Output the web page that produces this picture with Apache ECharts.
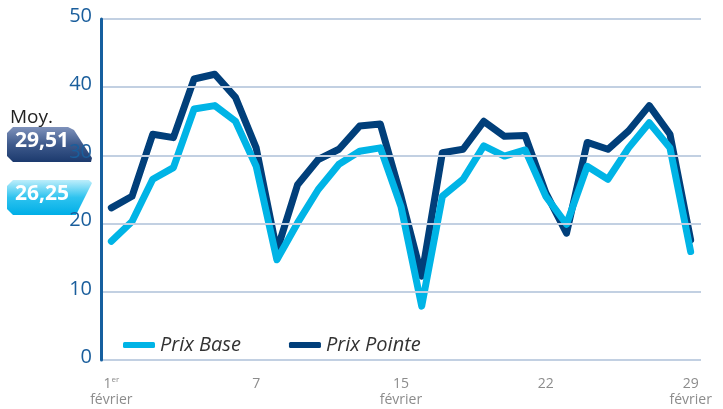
<!DOCTYPE html>
<html>
<head>
<meta charset="utf-8">
<script src="https://cdn.jsdelivr.net/npm/echarts@6/dist/echarts.min.js"></script>
<style>
  html, body { margin: 0; padding: 0; background: #fff; }
  #main { width: 723px; height: 409px; }
</style>
</head>
<body>
<div id="main"></div>
<script>
// jours de février
var days = [];
for (var d = 1; d <= 29; d++) days.push(String(d));

var prixBase = [17.4, 20.3, 26.5, 28.2, 36.8, 37.3, 35.0, 28.4, 14.7, 20.1,
                25.0, 28.7, 30.6, 31.1, 22.5, 7.9, 24.0, 26.5, 31.4, 29.9,
                30.8, 24.0, 19.9, 28.4, 26.5, 31.1, 34.8, 31.1, 15.9];
var prixPointe = [22.3, 24.0, 33.1, 32.6, 41.2, 41.9, 38.5, 31.1, 16.0, 25.7,
                  29.4, 30.9, 34.3, 34.6, 24.0, 12.3, 30.4, 30.9, 35.0, 32.8,
                  32.9, 24.5, 18.6, 31.9, 30.9, 33.6, 37.3, 33.1, 17.6];

// étiquettes de l'axe horizontal (index de catégorie -> texte)
var xTickIdx = [0, 7, 14, 21, 28];
var xTickTop = ['1', '7', '15', '22', '29'];
var xTickSub = ['février', '', 'février', '', 'février'];

var moyBase = '26,25';
var moyPointe = '29,51';

var cBase = '#00b4e6';
var cPointe = '#013f7a';

var myChart = echarts.init(document.getElementById('main'));
myChart.setOption({
    backgroundColor: '#ffffff',
    animation: false,
    textStyle: { fontFamily: 'Open Sans' },
    grid: { left: 101, right: 22, top: 19, bottom: 49 },
    legend: {
        data: ['Prix Base', 'Prix Pointe'],
        left: 118,
        top: 330,
        icon: 'roundRect',
        itemWidth: 32,
        itemHeight: 6,
        itemGap: 48,
        textStyle: {
            fontFamily: 'Open Sans',
            fontStyle: 'italic',
            fontSize: 20,
            color: '#333333'
        }
    },
    xAxis: {
        type: 'category',
        data: days,
        boundaryGap: true,
        axisLine: { show: false },
        axisTick: { show: false },
        splitLine: { show: false },
        axisLabel: {
            interval: function (i) { return xTickIdx.indexOf(i) >= 0; },
            margin: 16,
            color: '#8c8c8c',
            fontSize: 14,
            lineHeight: 16,
            formatter: function (v, i) {
                var k = xTickIdx.indexOf(i);
                if (k < 0) return '';
                var top = k === 0 ? '{n|' + xTickTop[k] + '}{sup|er}' : '{n|' + xTickTop[k] + '}';
                return xTickSub[k] ? top + '\n{n|' + xTickSub[k] + '}' : top;
            },
            rich: {
                n: { fontSize: 14, color: '#8c8c8c', lineHeight: 16 },
                sup: { fontSize: 8, color: '#8c8c8c', verticalAlign: 'top', lineHeight: 16, padding: [0, 0, 6, 0] }
            }
        }
    },
    yAxis: {
        type: 'value',
        zlevel: 1,
        min: 0,
        max: 50,
        interval: 10,
        axisLine: { show: true, lineStyle: { color: '#155f9f', width: 3 } },
        axisTick: { show: false },
        splitLine: { lineStyle: { color: '#c2d0e2', width: 2 } },
        axisLabel: {
            margin: 9,
            color: '#1a5e9c',
            fontSize: 20,
            verticalAlign: 'bottom',
            padding: [0, 0, -7, 0]
        }
    },
    graphic: [
        {
            type: 'text', left: 10, top: 108,
            style: { text: 'Moy.', fontSize: 19, fill: '#222', fontFamily: 'Open Sans' }
        },
        {
            type: 'polygon',
            shape: { points: [[13, 127], [68, 127], [74, 130], [92, 158], [91, 162], [13, 162], [7, 156], [7, 133]] },
            style: {
                fill: new echarts.graphic.LinearGradient(0, 0, 0, 1, [
                    { offset: 0, color: '#7f92bb' },
                    { offset: 0.5, color: '#3e5a8c' },
                    { offset: 1, color: '#1c3a6e' }
                ])
            }
        },
        {
            type: 'text', left: 15, top: 131,
            style: { text: moyPointe, fontSize: 21, fontWeight: 'bold', fill: '#ffffff', fontFamily: 'Open Sans' }
        },
        {
            type: 'polygon',
            shape: { points: [[13, 180], [89, 180], [92, 183], [76, 215], [13, 215], [7, 209], [7, 186]] },
            style: {
                fill: new echarts.graphic.LinearGradient(0, 0, 0, 1, [
                    { offset: 0, color: '#bdeefb' },
                    { offset: 0.5, color: '#2ec3ef' },
                    { offset: 1, color: '#00aee6' }
                ])
            }
        },
        {
            type: 'text', left: 15, top: 184,
            style: { text: moyBase, fontSize: 21, fontWeight: 'bold', fill: '#ffffff', fontFamily: 'Open Sans' }
        }
    ],
    series: [
        {
            name: 'Prix Pointe',
            type: 'line',
            data: prixPointe,
            symbol: 'none',
            lineStyle: { color: cPointe, width: 7, cap: 'round', join: 'round' },
            itemStyle: { color: cPointe }
        },
        {
            name: 'Prix Base',
            type: 'line',
            data: prixBase,
            symbol: 'none',
            lineStyle: { color: cBase, width: 7, cap: 'round', join: 'round' },
            itemStyle: { color: cBase }
        }
    ]
});
</script>
</body>
</html>
